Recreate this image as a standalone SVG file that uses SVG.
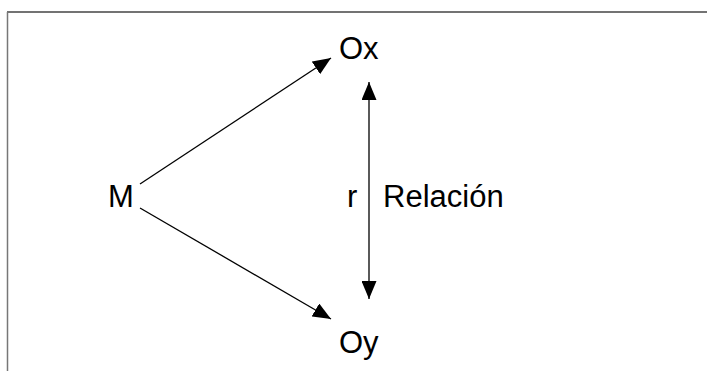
<svg xmlns="http://www.w3.org/2000/svg" width="707" height="371" viewBox="0 0 707 371">
<style>
text{font-family:"Liberation Sans",Arial,sans-serif;font-size:31px;fill:#000}
.c{stroke:#000;stroke-width:1.3;fill:none}
</style>
<defs>
<marker id="ah" markerWidth="18" markerHeight="15" refX="18" refY="7.5" orient="auto" markerUnits="userSpaceOnUse">
<path d="M0,0 L18,7.5 L0,15 Z" fill="#000"/>
</marker>
</defs>
<rect width="707" height="371" fill="#fff"/>
<g id="frame">
<line x1="7" y1="12" x2="707" y2="12" stroke="#444" stroke-width="1.5"/>
<line x1="7.5" y1="12" x2="7.5" y2="371" stroke="#777" stroke-width="1.5"/>
</g>
<g id="connectors">
<line class="c" x1="140" y1="184" x2="331" y2="58" marker-end="url(#ah)"/>
<line class="c" x1="140" y1="208" x2="331" y2="319" marker-end="url(#ah)"/>
<line class="c" x1="369" y1="190" x2="369" y2="82" marker-end="url(#ah)"/>
<line class="c" x1="369" y1="190" x2="369" y2="299" marker-end="url(#ah)"/>
</g>
<g id="M"><text x="108" y="207">M</text></g>
<g id="Ox"><text x="339" y="59">Ox</text></g>
<g id="Oy"><text x="339" y="353">Oy</text></g>
<g id="rel"><text x="347" y="207">r</text><text x="383" y="207">Relación</text></g>
</svg>
